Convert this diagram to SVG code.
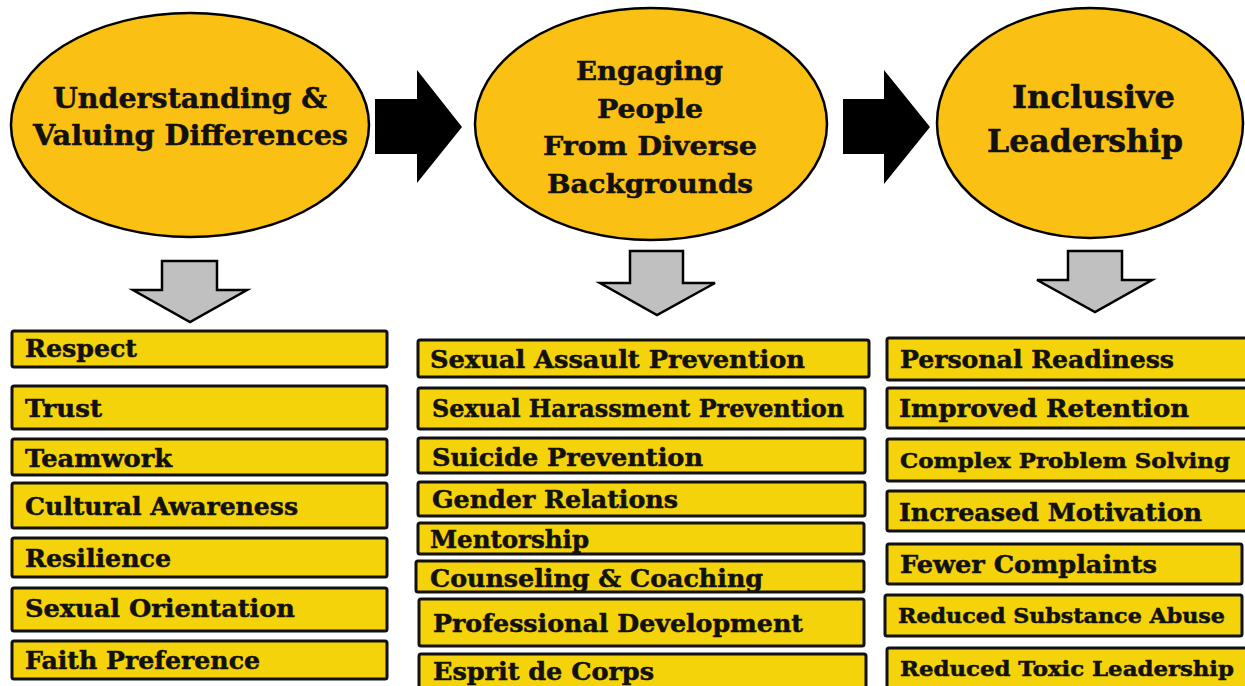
<svg xmlns="http://www.w3.org/2000/svg" width="1245" height="686" viewBox="0 0 1245 686">
<style>
.ell{fill:#FBC014;stroke:#000;stroke-width:2.5}
.box{fill:#F5D30A;stroke:#111;stroke-width:3}
.ga{fill:#C0C0C0;stroke:#000;stroke-width:2.5;stroke-linejoin:miter}
.ba{fill:#000}
text{font-family:"DejaVu Serif","Liberation Serif",serif;font-weight:bold;fill:#111;stroke:#111;stroke-width:0.5}
.bt{font-size:24px}
.sm{font-size:21px}
.et{font-size:28px;text-anchor:start}
</style>
<rect width="1245" height="686" fill="#fff"/>
<g id="connectors">
<polygon class="ba" points="375,99 417,99 417,70 462,127 417,183 417,154 375,154"/>
<polygon class="ba" points="843,99 884,99 884,70 930,127 884,184 884,154 843,154"/>
<polygon class="ga" points="162,261 217,261 217,290 247,290 190,322 133,290 162,290"/>
<polygon class="ga" points="630,251 683,251 683,283 715,283 657,315 600,283 630,283"/>
<polygon class="ga" points="1068,251 1122,251 1122,280 1152,280 1095,312 1037,280 1068,280"/>
</g>
<g id="node-understanding">
<ellipse class="ell" cx="190" cy="125" rx="179" ry="112"/>
<text class="et" x="53" y="108" textLength="274" lengthAdjust="spacingAndGlyphs">Understanding &amp;</text>
<text class="et" x="33" y="145" textLength="315" lengthAdjust="spacingAndGlyphs">Valuing Differences</text>
</g>
<g id="node-engaging">
<ellipse class="ell" cx="651" cy="124" rx="176" ry="116"/>
<text class="et" x="576" y="80" textLength="147" lengthAdjust="spacingAndGlyphs" style="font-size:26px">Engaging</text>
<text class="et" x="597" y="118" textLength="106" lengthAdjust="spacingAndGlyphs" style="font-size:26px">People</text>
<text class="et" x="543" y="155" textLength="214" lengthAdjust="spacingAndGlyphs" style="font-size:26px">From Diverse</text>
<text class="et" x="547" y="193" textLength="206" lengthAdjust="spacingAndGlyphs" style="font-size:26px">Backgrounds</text>
</g>
<g id="node-inclusive">
<ellipse class="ell" cx="1090" cy="123" rx="153" ry="115"/>
<text class="et" x="1012" y="108" textLength="163" lengthAdjust="spacingAndGlyphs" style="font-size:31px">Inclusive</text>
<text class="et" x="987" y="152" textLength="196" lengthAdjust="spacingAndGlyphs" style="font-size:31px">Leadership</text>
</g>
<g id="col1">
<g id="b-respect"><rect class="box" x="12" y="331" width="375" height="36" rx="2"/><text class="bt" x="25" y="357" textLength="112" lengthAdjust="spacingAndGlyphs">Respect</text></g>
<g id="b-trust"><rect class="box" x="12" y="386" width="375" height="43" rx="2"/><text class="bt" x="25" y="417" textLength="77" lengthAdjust="spacingAndGlyphs">Trust</text></g>
<g id="b-teamwork"><rect class="box" x="12" y="439" width="375" height="36" rx="2"/><text class="bt" x="25" y="467" textLength="147" lengthAdjust="spacingAndGlyphs">Teamwork</text></g>
<g id="b-cultural"><rect class="box" x="12" y="483" width="375" height="45" rx="2"/><text class="bt" x="25" y="515" textLength="273" lengthAdjust="spacingAndGlyphs">Cultural Awareness</text></g>
<g id="b-resilience"><rect class="box" x="12" y="538" width="375" height="39" rx="2"/><text class="bt" x="25" y="567" textLength="146" lengthAdjust="spacingAndGlyphs">Resilience</text></g>
<g id="b-orientation"><rect class="box" x="12" y="588" width="375" height="43" rx="2"/><text class="bt" x="25" y="617" textLength="270" lengthAdjust="spacingAndGlyphs">Sexual Orientation</text></g>
<g id="b-faith"><rect class="box" x="12" y="641" width="375" height="38" rx="2"/><text class="bt" x="25" y="669" textLength="235" lengthAdjust="spacingAndGlyphs">Faith Preference</text></g>
</g>
<g id="col2">
<g id="b-assault"><rect class="box" x="418" y="340" width="451" height="37" rx="2"/><text class="bt" x="430" y="368" textLength="375" lengthAdjust="spacingAndGlyphs">Sexual Assault Prevention</text></g>
<g id="b-harassment"><rect class="box" x="418" y="388" width="447" height="41" rx="2"/><text class="bt" x="432" y="417" textLength="412" lengthAdjust="spacingAndGlyphs">Sexual Harassment Prevention</text></g>
<g id="b-suicide"><rect class="box" x="418" y="438" width="447" height="35" rx="2"/><text class="bt" x="432" y="466" textLength="271" lengthAdjust="spacingAndGlyphs">Suicide Prevention</text></g>
<g id="b-gender"><rect class="box" x="418" y="482" width="447" height="34" rx="2"/><text class="bt" x="432" y="508" textLength="246" lengthAdjust="spacingAndGlyphs">Gender Relations</text></g>
<g id="b-mentorship"><rect class="box" x="418" y="523" width="446" height="31" rx="2"/><text class="bt" x="430" y="548" textLength="159" lengthAdjust="spacingAndGlyphs">Mentorship</text></g>
<g id="b-counseling"><rect class="box" x="416" y="561" width="448" height="31" rx="2"/><text class="bt" x="430" y="587" textLength="333" lengthAdjust="spacingAndGlyphs">Counseling &amp; Coaching</text></g>
<g id="b-professional"><rect class="box" x="419" y="599" width="445" height="47" rx="2"/><text class="bt" x="433" y="632" textLength="370" lengthAdjust="spacingAndGlyphs">Professional Development</text></g>
<g id="b-esprit"><rect class="box" x="419" y="654" width="447" height="40" rx="2"/><text class="bt" x="433" y="680" textLength="221" lengthAdjust="spacingAndGlyphs">Esprit de Corps</text></g>
</g>
<g id="col3">
<g id="b-readiness"><rect class="box" x="887" y="338" width="365" height="42" rx="2"/><text class="bt" x="900" y="368" textLength="274" lengthAdjust="spacingAndGlyphs">Personal Readiness</text></g>
<g id="b-retention"><rect class="box" x="887" y="388" width="365" height="40" rx="2"/><text class="bt" x="899" y="417" textLength="290" lengthAdjust="spacingAndGlyphs">Improved Retention</text></g>
<g id="b-complex"><rect class="box" x="887" y="439" width="365" height="42" rx="2"/><text class="bt sm" x="900" y="468" textLength="330" lengthAdjust="spacingAndGlyphs">Complex Problem Solving</text></g>
<g id="b-motivation"><rect class="box" x="887" y="491" width="365" height="40" rx="2"/><text class="bt" x="899" y="521" textLength="303" lengthAdjust="spacingAndGlyphs">Increased Motivation</text></g>
<g id="b-complaints"><rect class="box" x="887" y="544" width="355" height="40" rx="2"/><text class="bt" x="900" y="573" textLength="257" lengthAdjust="spacingAndGlyphs">Fewer Complaints</text></g>
<g id="b-substance"><rect class="box" x="885" y="595" width="357" height="41" rx="2"/><text class="bt sm" x="898" y="623" textLength="327" lengthAdjust="spacingAndGlyphs">Reduced Substance Abuse</text></g>
<g id="b-toxic"><rect class="box" x="887" y="648" width="365" height="45" rx="2"/><text class="bt sm" x="900" y="676" textLength="334" lengthAdjust="spacingAndGlyphs">Reduced Toxic Leadership</text></g>
</g>
</svg>
